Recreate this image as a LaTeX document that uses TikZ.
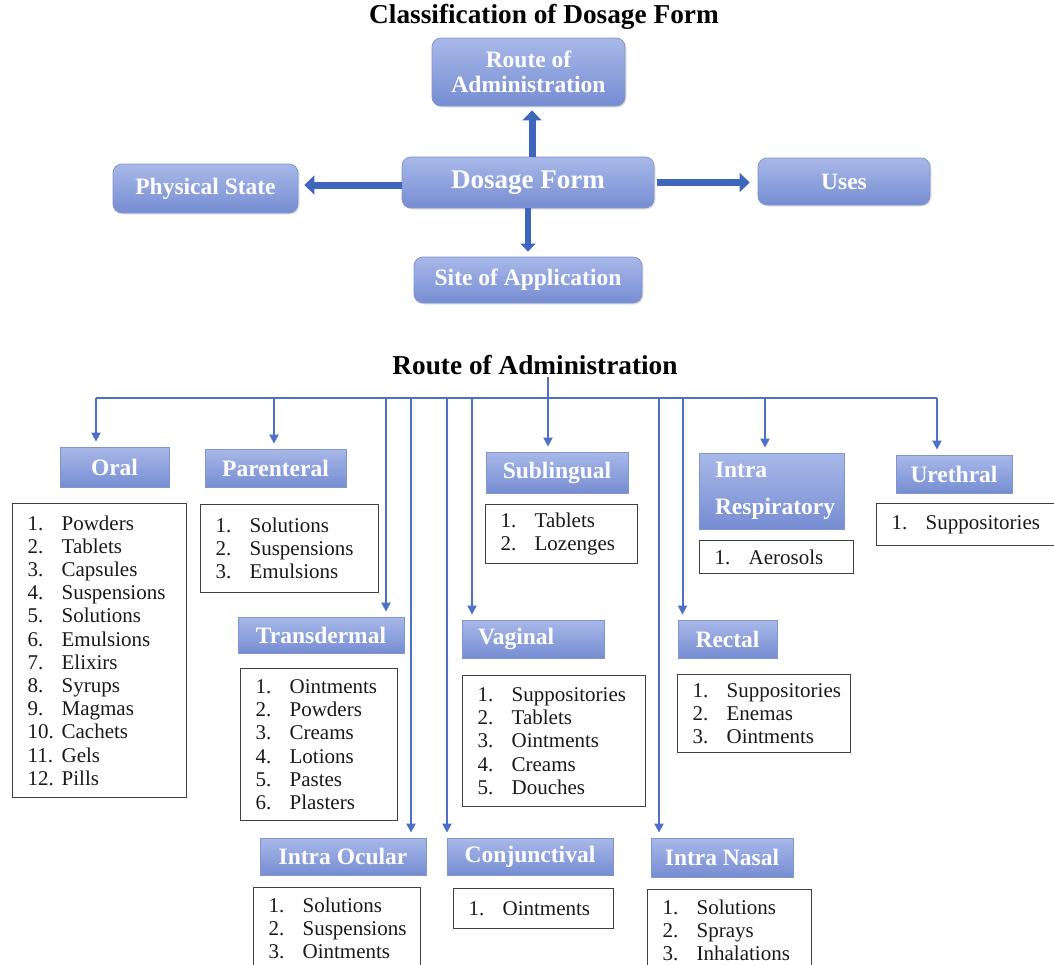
\documentclass[tikz,border=0pt]{standalone}
\usepackage{fontspec}
\setmainfont{Liberation Serif}
\usepackage{tikz}
\usetikzlibrary{arrows.meta,positioning,shadows}
\definecolor{headtop}{RGB}{168,184,232}
\definecolor{headbot}{RGB}{118,141,210}
\definecolor{headline}{RGB}{128,148,206}
\definecolor{arrowblue}{RGB}{62,102,188}
\definecolor{linkblue}{RGB}{78,112,200}
\newcommand{\itm}[2]{\makebox[34pt][l]{#1.}#2}
\newcommand{\hfont}{\fontsize{23.5}{25}\selectfont\bfseries}
\newcommand{\lfont}{\fontsize{21}{23.2}\selectfont}
\newcommand{\tfont}{\fontsize{27.3}{29}\selectfont\bfseries}

\begin{document}
\begin{tikzpicture}[x=1pt, y=-1pt,
		head/.style={top color=headtop, bottom color=headbot, draw=headline, line width=0.8pt, text=white, font=\hfont, inner sep=0pt},
		bighead/.style={head, rounded corners=9pt, drop shadow={opacity=0.22, shadow xshift=1.5pt, shadow yshift=-1.5pt}},
		list/.style={draw=black!75, line width=1.3pt, font=\lfont, align=left, anchor=north west, inner xsep=15pt, inner ysep=0pt, text=black!90},
		link/.style={draw=linkblue, line width=2pt},
		linkarrow/.style={link, -{Triangle[width=9pt,length=9pt]}, shorten >=5pt},
		bigarrow/.style={draw=arrowblue, line width=7pt, -{Triangle[width=19pt,length=10pt]}}]

					\useasboundingbox (0,0) rectangle (1054,964);

					\node[font=\tfont] (clstitle) at (544,17) {Classification of Dosage Form};

					\node[bighead, minimum width=193pt, minimum height=68pt, align=center] (route) at (528.5,72) {Route of\\Administration};
					\node[bighead, font=\fontsize{27}{29}\selectfont\bfseries, minimum width=252pt, minimum height=51pt] (dosage) at (528,182.5) {Dosage Form};
					\node[bighead, minimum width=185pt, minimum height=49pt] (physical) at (205.5,188.5) {Physical State};
					\node[bighead, minimum width=172pt, minimum height=47pt] (uses) at (844,181.5) {Uses};
					\node[bighead, minimum width=228pt, minimum height=46pt] (site) at (528,280) {Site of Application};

					\draw[bigarrow, shorten >=4pt] ([xshift=4pt]dosage.north) -- ([xshift=4pt]dosage.north |- route.south);
					\draw[bigarrow, shorten >=6pt] ([yshift=-2.5pt]dosage.west) -- ([yshift=-2.5pt]dosage.west -| physical.east);
					\draw[bigarrow, shorten <=3pt, shorten >=8pt] (dosage.east) -- (dosage.east -| uses.west);
					\draw[bigarrow, line width=6pt, -{Triangle[width=15pt,length=8pt]}, shorten >=5pt] (dosage.south) -- (site.north);

					\node[font=\tfont] (roatitle) at (535,365) {Route of Administration};
					\coordinate (bus) at (548,398);

					\node[head, minimum width=109pt, minimum height=40pt] (oral) at (114.5,467) {Oral};
					\node[head, minimum width=141pt, minimum height=38pt] (parenteral) at (275.5,468) {Parenteral};
					\node[head, minimum width=142pt, minimum height=41pt] (sublingual) at (557,472.5) {Sublingual};
					\node[head, text width=113pt, inner xsep=16pt, minimum height=76pt, align=left] (intraresp) at (771.5,491) {\rule{0pt}{10pt}Intra\\[12pt]Respiratory};
					\node[head, minimum width=116pt, minimum height=38pt] (urethral) at (954,474) {Urethral};
					\node[head, minimum width=166pt, minimum height=36pt] (transdermal) at (321,635) {Transdermal};
					\node[head, text width=110pt, inner xsep=16pt, minimum height=38pt, align=left] (vaginal) at (533,639) {Vaginal};
					\node[head, minimum width=99pt, minimum height=38pt] (rectal) at (727.5,639) {Rectal};
					\node[head, minimum width=166pt, minimum height=37pt] (intraocular) at (343,856.5) {Intra Ocular};
					\node[head, minimum width=166pt, minimum height=37pt] (conjunctival) at (530,856.5) {Conjunctival};
					\node[head, minimum width=142pt, minimum height=39pt] (intranasal) at (722,857.5) {Intra Nasal};

					\node[list, text width=144pt, minimum height=294pt] (orallist) at (12,503) {\itm{1}{Powders}\\\itm{2}{Tablets}\\\itm{3}{Capsules}\\\itm{4}{Suspensions}\\\itm{5}{Solutions}\\\itm{6}{Emulsions}\\\itm{7}{Elixirs}\\\itm{8}{Syrups}\\\itm{9}{Magmas}\\\itm{10}{Cachets}\\\itm{11}{Gels}\\\itm{12}{Pills}};
					\node[list, text width=148pt, minimum height=88pt] (parlist) at (200,504) {\itm{1}{Solutions}\\\itm{2}{Suspensions}\\\itm{3}{Emulsions}};
					\node[list, text width=122pt, minimum height=59pt] (sublist) at (485,504) {\itm{1}{Tablets}\\\itm{2}{Lozenges}};
					\node[list, text width=124pt, minimum height=33pt] (resplist) at (699,540) {\itm{1}{Aerosols}};
					\node[list, text width=150pt, minimum height=42pt] (urelist) at (876,503) {\itm{1}{Suppositories}};
					\node[list, text width=127pt, minimum height=152pt] (translist) at (240,668) {\itm{1}{Ointments}\\\itm{2}{Powders}\\\itm{3}{Creams}\\\itm{4}{Lotions}\\\itm{5}{Pastes}\\\itm{6}{Plasters}};
					\node[list, text width=153pt, minimum height=131pt] (vaglist) at (462,675) {\itm{1}{Suppositories}\\\itm{2}{Tablets}\\\itm{3}{Ointments}\\\itm{4}{Creams}\\\itm{5}{Douches}};
					\node[list, text width=143pt, minimum height=78pt] (reclist) at (677,674) {\itm{1}{Suppositories}\\\itm{2}{Enemas}\\\itm{3}{Ointments}};
					\node[list, text width=137pt, minimum height=81pt] (ocularlist) at (253,887) {\itm{1}{Solutions}\\\itm{2}{Suspensions}\\\itm{3}{Ointments}};
					\node[list, text width=130pt, minimum height=40pt] (conjlist) at (453,888) {\itm{1}{Ointments}};
					\node[list, text width=134pt, minimum height=81pt] (nasallist) at (647,889) {\itm{1}{Solutions}\\\itm{2}{Sprays}\\\itm{3}{Inhalations}};

					\draw[link] ([xshift=-18.5pt]oral.north |- bus) -- ([xshift=-17pt]urethral.north |- bus);
					\draw[linkarrow] ([yshift=-3pt]roatitle.base -| bus) -- (bus |- sublingual.north);
					\foreach \n/\dx in {oral/-18.5, parenteral/-1.5, transdermal/65, intraocular/68, conjunctival/-83, vaginal/-61, intranasal/-63, rectal/-45, intraresp/-6.5, urethral/-17}
						\draw[linkarrow] ([xshift=\dx pt]\n.north |- bus) -- ([xshift=\dx pt]\n.north);

\end{tikzpicture}
\end{document}
